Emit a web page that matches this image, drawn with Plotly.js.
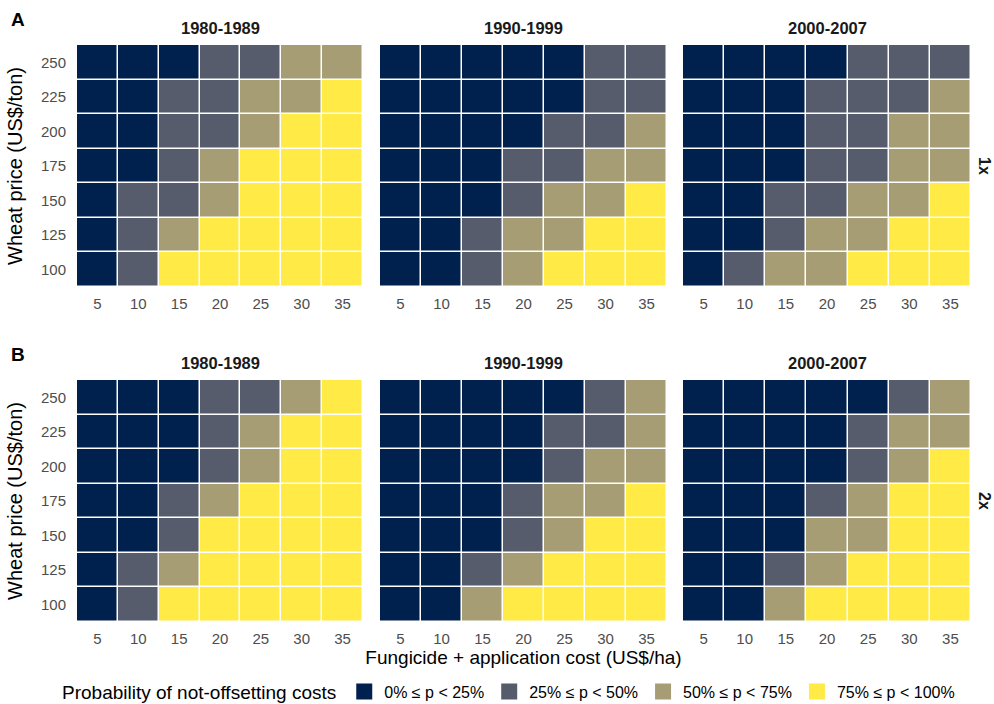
<!DOCTYPE html>
<html><head><meta charset="utf-8">
<script src="https://cdn.plot.ly/plotly-3.0.1.min.js"></script>
<style>html,body{margin:0;padding:0;background:#fff}</style>
</head><body><div id="chart" style="width:994px;height:704px"></div>
<script>
const costs = [5, 10, 15, 20, 25, 30, 35];
const prices = [250, 225, 200, 175, 150, 125, 100]; // row order of the matrices (top to bottom)
const periods = ["1980-1989", "1990-1999", "2000-2007"];
const scenarios = ["1x", "2x"];
const panelLetters = ["A", "B"];
const classLabels = ["0% \u2264 p < 25%", "25% \u2264 p < 50%", "50% \u2264 p < 75%", "75% \u2264 p < 100%"];
const classColors = ["#00204D", "#575C6D", "#A69D75", "#FFEA46"];

// probability class (0..3) per cell; rows = prices (250 → 100), cols = costs (5 → 35)
const a1980 = [
  [0,0,0,1,1,2,2],
  [0,0,1,1,2,2,3],
  [0,0,1,1,2,3,3],
  [0,0,1,2,3,3,3],
  [0,1,1,2,3,3,3],
  [0,1,2,3,3,3,3],
  [0,1,3,3,3,3,3]];
const a1990 = [
  [0,0,0,0,0,1,1],
  [0,0,0,0,0,1,1],
  [0,0,0,0,1,1,2],
  [0,0,0,1,1,2,2],
  [0,0,0,1,2,2,3],
  [0,0,1,2,2,3,3],
  [0,0,1,2,3,3,3]];
const a2000 = [
  [0,0,0,0,1,1,1],
  [0,0,0,1,1,1,2],
  [0,0,0,1,1,2,2],
  [0,0,0,1,1,2,2],
  [0,0,1,1,2,2,3],
  [0,0,1,2,2,3,3],
  [0,1,2,2,3,3,3]];
const b1980 = [
  [0,0,0,1,1,2,3],
  [0,0,0,1,2,3,3],
  [0,0,0,1,2,3,3],
  [0,0,1,2,3,3,3],
  [0,0,1,3,3,3,3],
  [0,1,2,3,3,3,3],
  [0,1,3,3,3,3,3]];
const b1990 = [
  [0,0,0,0,0,1,2],
  [0,0,0,0,1,1,2],
  [0,0,0,0,1,2,2],
  [0,0,0,1,2,2,3],
  [0,0,0,1,2,3,3],
  [0,0,1,2,3,3,3],
  [0,0,2,3,3,3,3]];
const b2000 = [
  [0,0,0,0,0,1,2],
  [0,0,0,0,1,2,2],
  [0,0,0,0,1,2,3],
  [0,0,0,1,2,3,3],
  [0,0,0,2,2,3,3],
  [0,0,1,2,3,3,3],
  [0,0,2,3,3,3,3]];

const grid = [[a1980, a1990, a2000], [b1980, b1990, b2000]];

const FONT = "Liberation Sans, Arial, sans-serif";
const TICKC = "#4D4D4D";
const W = 994, H = 704;
const mL = 77, mR = 23, mT = 45, mB = 82;
const pw = W - mL - mR, ph = H - mT - mB;
const px = v => (v - mL) / pw;
const py = v => (H - mB - v) / ph;
const xDomains = [[px(77), px(363)], [px(380), px(667)], [px(683), px(971)]];
const yDomains = [[py(287), py(45)], [py(622), py(380)]];

const colorscale = [];
classColors.forEach((c, i) => {
  colorscale.push([i / 4, c]);
  colorscale.push([(i + 1) / 4, c]);
});

const traces = [];
const layout = {
  width: W, height: H,
  margin: {l: mL, r: mR, t: mT, b: mB, autoexpand: false},
  paper_bgcolor: "#fff", plot_bgcolor: "#fff",
  font: {family: FONT, color: "#000"},
  showlegend: true,
  annotations: [],
  legend: {
    orientation: "h", x: px(60), xanchor: "left", y: py(692), yanchor: "middle",
    title: {text: "Probability of not-offsetting costs", side: "left", font: {size: 19, family: FONT, color: "#000"}},
    font: {size: 16, family: FONT, color: "#000"},
    itemwidth: 30, bgcolor: "rgba(0,0,0,0)", traceorder: "normal"
  }
};

let k = 0;
for (let r = 0; r < 2; r++) {
  for (let c = 0; c < 3; c++) {
    k++;
    const sfx = k === 1 ? "" : String(k);
    traces.push({
      type: "heatmap", x: costs, y: prices, z: grid[r][c],
      xaxis: "x" + sfx, yaxis: "y" + sfx,
      zmin: -0.5, zmax: 3.5, colorscale: colorscale, showscale: false,
      xgap: 1.5, ygap: 1.5,
      hovertemplate: "cost %{x}<br>price %{y}<br>class %{z}<extra></extra>"
    });
    layout["xaxis" + sfx] = {
      domain: xDomains[c], anchor: "y" + sfx, range: [2.5, 37.5],
      tickvals: costs, ticks: "", showgrid: false, zeroline: false, showline: false,
      tickfont: {size: 15, color: TICKC, family: FONT}, ticklabelstandoff: 6,
      fixedrange: true
    };
    layout["yaxis" + sfx] = {
      domain: yDomains[r], anchor: "x" + sfx, range: [87.5, 262.5],
      tickvals: prices, ticks: "", showgrid: false, zeroline: false, showline: false,
      showticklabels: c === 0,
      tickfont: {size: 15, color: TICKC, family: FONT}, ticklabelstandoff: 10,
      fixedrange: true
    };
    if (c === 0) {
      layout["yaxis" + sfx].title = {text: "Wheat price (US$/ton)", font: {size: 20, family: FONT, color: "#000"}, standoff: 12};
    }
    if (r === 1 && c === 1) {
      layout["xaxis" + sfx].title = {text: "Fungicide + application cost (US$/ha)", font: {size: 19, family: FONT, color: "#000"}, standoff: 4};
    }
    // facet strip title
    layout.annotations.push({
      text: "<b>" + periods[c] + "</b>", xref: "paper", yref: "paper",
      x: (xDomains[c][0] + xDomains[c][1]) / 2, y: yDomains[r][1] + 17 / ph,
      xanchor: "center", yanchor: "middle", showarrow: false,
      font: {size: 16.5, family: FONT, color: "#1a1a1a"}
    });
  }
  // right strip (scenario)
  layout.annotations.push({
    text: "<b>" + scenarios[r] + "</b>", xref: "paper", yref: "paper",
    x: px(985), y: (yDomains[r][0] + yDomains[r][1]) / 2,
    xanchor: "center", yanchor: "middle", showarrow: false, textangle: 90,
    font: {size: 16, family: FONT, color: "#1a1a1a"}
  });
  // panel letter
  layout.annotations.push({
    text: "<b>" + panelLetters[r] + "</b>", xref: "paper", yref: "paper",
    x: px(18), y: yDomains[r][1] + 25 / ph,
    xanchor: "center", yanchor: "middle", showarrow: false,
    font: {size: 19, family: FONT, color: "#000"}
  });
}

classLabels.forEach((lab, i) => {
  traces.push({
    type: "scatter", mode: "markers", x: [null], y: [null], xaxis: "x", yaxis: "y",
    name: lab, marker: {symbol: "square", size: 16, color: classColors[i]},
    hoverinfo: "skip", showlegend: true
  });
});

Plotly.newPlot("chart", traces, layout, {displayModeBar: false, staticPlot: false});
</script>
</body></html>
